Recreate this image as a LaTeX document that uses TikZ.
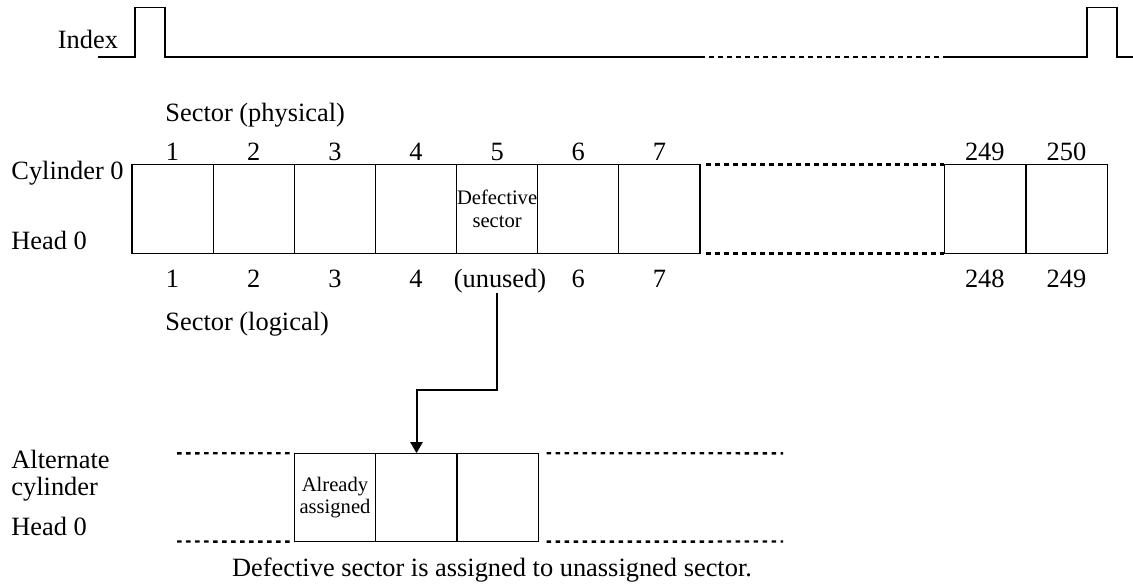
\documentclass[tikz,border=0pt]{standalone}
\usepackage{fontspec}
\setmainfont{Liberation Serif}
\usetikzlibrary{arrows.meta}
\tikzset{
  lbl/.style={inner sep=0pt, font=\fontsize{13.2}{15}\selectfont},
  num/.style={lbl, anchor=base},
  small/.style={inner sep=0pt, align=center, font=\fontsize{10.3}{11.2}\selectfont},
  sbox/.style={draw, line width=0.6pt, minimum width=40.6pt, minimum height=44.5pt, inner sep=0pt, outer sep=0pt},
  abox/.style={draw, line width=0.6pt, minimum width=40.8pt, minimum height=44.2pt, inner sep=0pt, outer sep=0pt},
  dots/.style={line width=1.2pt, dash pattern=on 2.3pt off 2.2pt},
  wave/.style={line width=0.8pt},
  arr/.style={line width=1pt, -{Triangle[width=6pt,length=5.5pt]}}
}
\begin{document}
\begin{tikzpicture}[x=0.5pt,y=-0.5pt]
\useasboundingbox (0,0) rectangle (1133,586);
% index waveform
\coordinate (w0) at (98,56.7);
\coordinate (w1) at (700,56.7);
\coordinate (w2) at (948,56.7);
\coordinate (w3) at (1133,56.7);
\draw[wave] (w0) -- (135,56.7) -- (135,7.3) -- (165,7.3) -- (165,56.7) -- (w1);
\draw[dots] (w1) -- (w2);
\draw[wave] (w2) -- (1086.7,56.7) -- (1086.7,7.3) -- (1116.7,7.3) -- (1116.7,56.7) -- (w3);
\node[lbl] (idx) at (88,39) {Index};
% physical row
\foreach \i in {1,...,7} {
  \node[sbox] (p\i) at ({132+81.14*(\i-0.5)},208.8) {};
}
\node[sbox] (p249) at (984.8,208.8) {};
\node[sbox] (p250) at (1066.5,208.8) {};
\node[small] (def) at (p5) {Defective\\sector};
\draw[dots] ([xshift=3pt]p7.north east) -- (p249.north west);
\draw[dots] ([xshift=3pt]p7.south east) -- (p249.south west);
% labels
\node[lbl, anchor=west] (sp) at (165,115) {Sector (physical)};
\node[lbl, anchor=west] (sl) at (165,324) {Sector (logical)};
\node[lbl, anchor=west] (cyl) at (11,173) {Cylinder 0};
\node[lbl, anchor=west] (hd) at (11,240) {Head 0};
\foreach \i in {1,...,7} {
  \node[num] (t\i) at (p\i |- 0,160) {\i};
}
\node[num] (t249) at (p249 |- 0,160) {249};
\node[num] (t250) at (p250 |- 0,160) {250};
\foreach \i in {1,...,4} {
  \node[num] (b\i) at (p\i |- 0,287) {\i};
}
\node[num] (unused) at (500,287) {(unused)};
\node[num] (b6) at (p6 |- 0,287) {6};
\node[num] (b7) at (p7 |- 0,287) {7};
\node[num] (b249) at (p249 |- 0,287) {248};
\node[num] (b250) at (p250 |- 0,287) {249};
% alternate row
\node[abox] (a1) at (335,497.4) {};
\node[abox] (a2) at (416.5,497.4) {};
\node[abox] (a3) at (497.8,497.4) {};
\node[small] (ass) at (a1) {Already\\assigned};
\coordinate (l1) at (177,453.3);
\coordinate (l2) at (177,541.5);
\coordinate (r1) at (783,453.3);
\coordinate (r2) at (783,541.5);
\draw[dots] (l1) -- (a1.north west);
\draw[dots] (l2) -- (a1.south west);
\draw[dots] ([xshift=4pt]a3.north east) -- (r1);
\draw[dots] ([xshift=4pt]a3.south east) -- (r2);
\node[lbl, anchor=west, align=left, font=\fontsize{13.2}{13.5}\selectfont] (alt) at (11,476) {Alternate\\cylinder};
\node[lbl, anchor=west] (hd2) at (11,526) {Head 0};
\node[lbl] (cap) at (492,570) {Defective sector is assigned to unassigned sector.};
% arrow
\draw[arr] (p5 |- unused.south) -- ++(0,97) -| (a2.north);
\end{tikzpicture}
\end{document}
